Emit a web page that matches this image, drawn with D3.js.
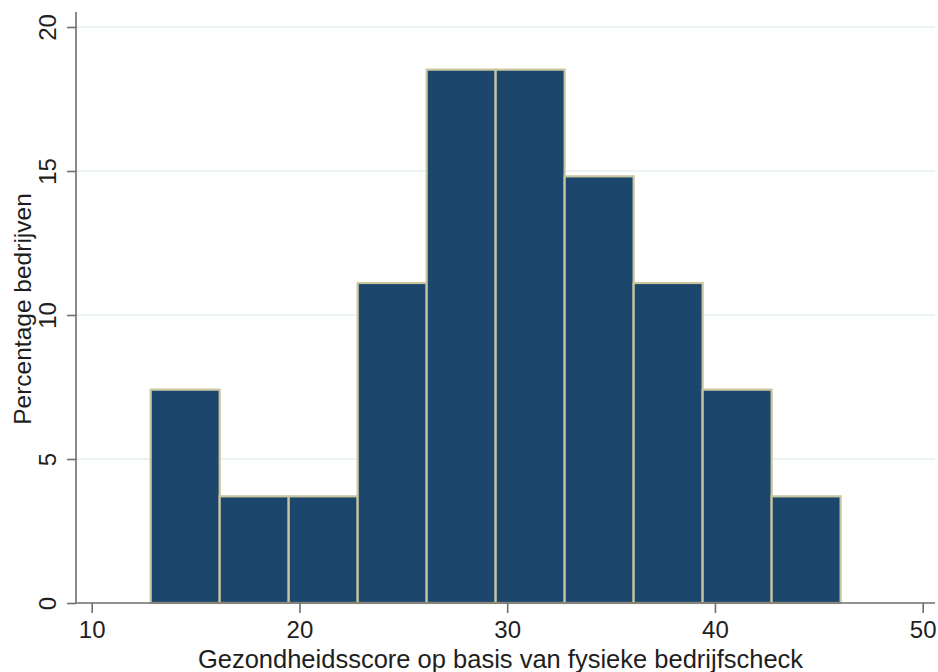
<!DOCTYPE html>
<html><head><meta charset="utf-8">
<script src="https://cdn.jsdelivr.net/npm/d3@7"></script>
<style>body{margin:0;background:#fff}svg{display:block}text{font-family:"Liberation Sans",Arial,sans-serif;fill:#1e1e1e}</style>
</head><body>
<script>
const binStart = 12.84;
const binWidth = 3.321;
const percentages = [7.407, 3.704, 3.704, 11.111, 18.519, 18.519, 14.815, 11.111, 7.407, 3.704];
const xTicks = [10, 20, 30, 40, 50];
const yTicks = [0, 5, 10, 15, 20];
const xTitle = "Gezondheidsscore op basis van fysieke bedrijfscheck";
const yTitle = "Percentage bedrijven";

const W = 938, H = 672;
const svg = d3.select("body").append("svg").attr("width", W).attr("height", H);
const x = d3.scaleLinear().domain([10, 50]).range([91.7, 922.7]);
const y = d3.scaleLinear().domain([0, 20]).range([603, 27]);
const left = 76, right = 935;

// grid
svg.append("g").selectAll("line").data(yTicks.filter(d => d > 0)).join("line")
  .attr("x1", left).attr("x2", right).attr("y1", d => y(d)).attr("y2", d => y(d))
  .attr("stroke", "#e6efef").attr("stroke-width", 1.5);

const bins = percentages.map((v, i) => ({x0: binStart + i * binWidth, x1: binStart + (i + 1) * binWidth, v}));
svg.append("g").selectAll("rect").data(bins).join("rect")
  .attr("x", d => x(d.x0)).attr("width", d => x(d.x1) - x(d.x0))
  .attr("y", d => y(d.v)).attr("height", d => y(0) - y(d.v))
  .attr("fill", "#1c466c").attr("stroke", "#c9c7a0").attr("stroke-width", 2.2);

// x axis
const xa = svg.append("g").attr("transform", `translate(0,${y(0)})`)
  .call(d3.axisBottom(x).tickValues(xTicks).tickSize(10).tickPadding(8).tickFormat(d3.format("d")));
xa.select(".domain").remove();
xa.append("line").attr("x1", left).attr("x2", right).attr("stroke", "#6e6e6e").attr("stroke-width", 1.6);
xa.selectAll(".tick line").attr("stroke", "#6e6e6e").attr("stroke-width", 1.6);
xa.selectAll(".tick text").attr("font-size", 24).style("fill", "#1e1e1e");

// y axis
const ya = svg.append("g").attr("transform", `translate(${left},0)`)
  .call(d3.axisLeft(y).tickValues(yTicks).tickSize(9).tickFormat(d3.format("d")));
ya.select(".domain").remove();
ya.append("line").attr("y1", 12).attr("y2", y(0)).attr("stroke", "#6e6e6e").attr("stroke-width", 1.6);
ya.selectAll(".tick line").attr("stroke", "#6e6e6e").attr("stroke-width", 1.6);
ya.selectAll(".tick text").attr("font-size", 24).style("fill", "#1e1e1e")
  .attr("transform", "rotate(-90)").attr("x", 0).attr("y", -20).attr("dy", 0)
  .attr("text-anchor", "middle");

svg.append("text").attr("x", 500.5).attr("y", 668).attr("text-anchor", "middle")
  .attr("font-size", 25.5).text(xTitle);
svg.append("text").attr("transform", `translate(31,309) rotate(-90)`)
  .attr("text-anchor", "middle").attr("font-size", 24.5).text(yTitle);
</script>
</body></html>
